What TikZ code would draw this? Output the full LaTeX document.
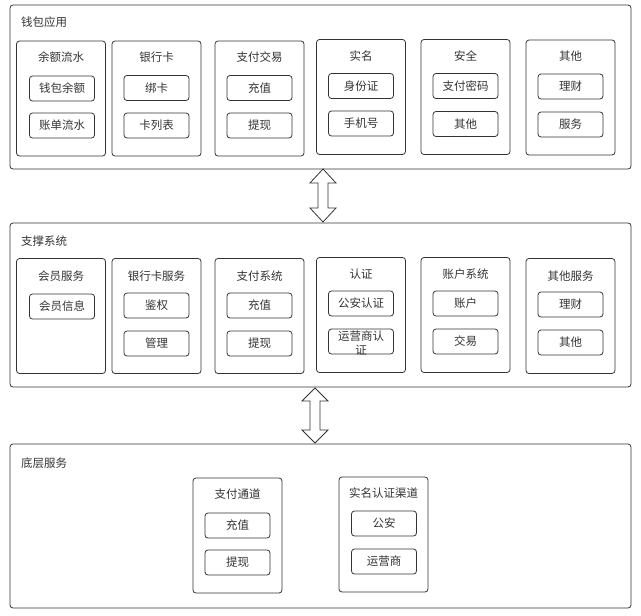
\documentclass[tikz,border=0pt]{standalone}
\usepackage{fontspec}
\setmainfont{Noto Sans CJK SC}
\definecolor{linec}{HTML}{333333}
\definecolor{textc}{HTML}{333333}

\begin{document}
\begin{tikzpicture}
	[x=1pt, y=-1pt, inner sep=0pt, font=\fontsize{11.5pt}{13.5pt}\selectfont, text=textc,
	layer/.style	= {draw=linec, line width=0.8pt, rounded corners=3pt, minimum width=621pt, minimum height=164pt},
	group/.style	= {draw=linec, line width=0.8pt, rounded corners=3pt, minimum width=89pt, minimum height=115pt},
	item/.style		= {draw=linec, line width=0.8pt, rounded corners=3pt, minimum width=65pt, minimum height=25pt},
	title/.style	= {anchor=west},
	updown/.style	= {draw=linec, line width=0.8pt, fill=white, line join=miter}]
	
	\useasboundingbox (0,0) rectangle (641,616);
	
	% wallet layer
	\node at (320.5, 87)	[layer]	(wallet)	{};
	\node at (21, 22)		[title]	(walletT)	{钱包应用};
	
	\node at (61, 98.5)		[group]	(balance)	{};
	\node at (61, 57)				(balanceT)	{余额流水};
	\node at (62, 88.5)		[item]	(balance1)	{钱包余额};
	\node at (62, 125.5)	[item]	(balance2)	{账单流水};
	
	\node at (156.5, 98.5)	[group]	(card)		{};
	\node at (156.5, 57)			(cardT)		{银行卡};
	\node at (156.5, 88)	[item]	(card1)		{绑卡};
	\node at (156.5, 125.5)	[item]	(card2)		{卡列表};
	
	\node at (259.5, 98.5)	[group]	(pay)		{};
	\node at (259.5, 57)			(payT)		{支付交易};
	\node at (259.5, 88)	[item]	(pay1)		{充值};
	\node at (259.5, 125.5)	[item]	(pay2)		{提现};
	
	\node at (361, 97)		[group]	(name)		{};
	\node at (361, 56)				(nameT)		{实名};
	\node at (361, 86)		[item]	(name1)		{身份证};
	\node at (361, 123.5)	[item]	(name2)		{手机号};
	
	\node at (465.5, 97)	[group]	(safe)		{};
	\node at (465.5, 56)			(safeT)	{安全};
	\node at (465.5, 86)	[item]	(safe1)		{支付密码};
	\node at (465.5, 124)	[item]	(safe2)		{其他};
	
	\node at (570.5, 97.5)	[group]	(other)		{};
	\node at (570.5, 56)			(otherT)	{其他};
	\node at (570.5, 86.5)	[item]	(other1)	{理财};
	\node at (570.5, 124.5)	[item]	(other2)	{服务};
	
	% support layer
	\node at (320.5, 305)	[layer]	(support)	{};
	\node at (21, 241)		[title]	(supportT)	{支撑系统};
	
	\node at (61, 316)		[group]	(member)	{};
	\node at (61, 276)				(memberT)	{会员服务};
	\node at (62, 306.5)	[item]	(member1)	{会员信息};
	
	\node at (156.5, 316)	[group]	(cardsvc)	{};
	\node at (156.5, 276)			(cardsvcT)	{银行卡服务};
	\node at (156.5, 305.5)	[item]	(cardsvc1)	{鉴权};
	\node at (156.5, 343.5)	[item]	(cardsvc2)	{管理};
	
	\node at (259.5, 316)	[group]	(paysys)	{};
	\node at (259.5, 276)			(paysysT)	{支付系统};
	\node at (259.5, 305.5)	[item]	(paysys1)	{充值};
	\node at (259.5, 343.5)	[item]	(paysys2)	{提现};
	
	\node at (361, 315)		[group]	(auth)		{};
	\node at (361, 274)				(authT)		{认证};
	\node at (361, 303.5)	[item]	(auth1)		{公安认证};
	\node at (361, 341.5)	[item]	(auth2)		{};
	\node at (361, 343)		[align=center]	(auth2T)	{运营商认\\证};
	
	\node at (465.5, 315)	[group]	(account)	{};
	\node at (465.5, 274)			(accountT)	{账户系统};
	\node at (465.5, 303.5)	[item]	(account1)	{账户};
	\node at (465.5, 341.5)	[item]	(account2)	{交易};
	
	\node at (570.5, 316)	[group]	(othersvc)	{};
	\node at (570.5, 276)			(othersvcT)	{其他服务};
	\node at (570.5, 304.5)	[item]	(othersvc1)	{理财};
	\node at (570.5, 342.5)	[item]	(othersvc2)	{其他};
	
	% base layer
	\node at (320.5, 526)	[layer]	(base)		{};
	\node at (21, 463)		[title]	(baseT)		{底层服务};
	
	\node at (237.5, 535.5)	[group]	(channel)	{};
	\node at (237.5, 494)			(channelT)	{支付通道};
	\node at (237.5, 525.5)	[item]	(channel1)	{充值};
	\node at (237.5, 562.5)	[item]	(channel2)	{提现};
	
	\node at (383.5, 534.5)	[group]	(realname)	{};
	\node at (383.5, 493)			(realnameT)	{实名认证渠道};
	\node at (384, 523.5)	[item]	(realname1)	{公安};
	\node at (384, 561.5)	[item]	(realname2)	{运营商};
	
	% arrows between layers
	\draw [updown] (323, 169) -- ++(13,14) -- ++(-8,0) -- ++(0,25) -- ++(8,0) -- ++(-13,14)
		-- ++(-13,-14) -- ++(8,0) -- ++(0,-25) -- ++(-8,0) -- cycle;
	\draw [updown] (315, 388) -- ++(13,13) -- ++(-8,0) -- ++(0,29) -- ++(8,0) -- ++(-13,13)
		-- ++(-13,-13) -- ++(8,0) -- ++(0,-29) -- ++(-8,0) -- cycle;
	
\end{tikzpicture}
\end{document}
